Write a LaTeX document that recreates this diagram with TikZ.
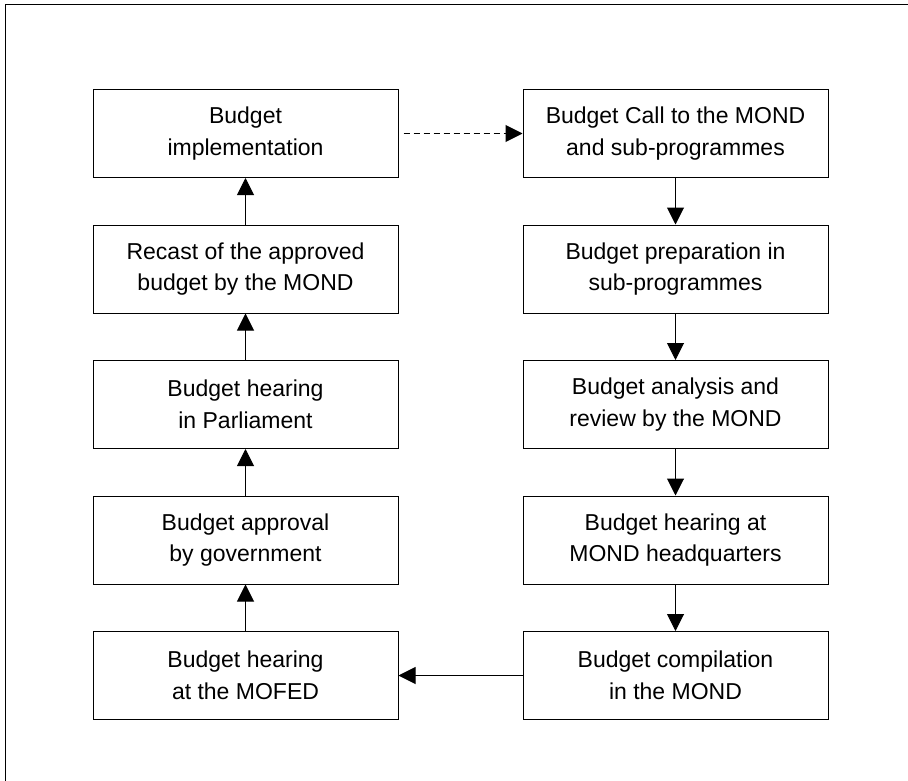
\documentclass[tikz,border=0pt]{standalone}
\usepackage{fontspec}
\setmainfont{Liberation Sans}
\usetikzlibrary{arrows.meta}
\begin{document}
\begin{tikzpicture}[x=1pt,y=-1pt,
  stepbox/.style={draw,line width=1pt,minimum width=305pt,minimum height=88pt,inner sep=0pt,
    align=center,font=\fontsize{23}{31.7}\selectfont},
  flow/.style={line width=1pt,-{Triangle[length=17pt,width=17pt]}}]
\useasboundingbox (0,0) rectangle (908,781);
\draw[line width=1pt] (5,800) -- (5,5) -- (920,5);
\node[stepbox] (l1) at (245.5,133.5) {Budget\\implementation};
\node[stepbox] (l2) at (245.5,269) {Recast of the approved\\budget by the MOND};
\node[stepbox] (l3) at (245.5,404.5) {Budget hearing\\in Parliament};
\node[stepbox] (l4) at (245.5,540) {Budget approval\\by government};
\node[stepbox] (l5) at (245.5,675.5) {Budget hearing\\at the MOFED};
\node[stepbox] (r1) at (675.5,133.5) {Budget Call to the MOND\\and sub-programmes};
\node[stepbox] (r2) at (675.5,269) {Budget preparation in\\sub-programmes};
\node[stepbox] (r3) at (675.5,404.5) {Budget analysis and\\review by the MOND};
\node[stepbox] (r4) at (675.5,540) {Budget hearing at\\MOND headquarters};
\node[stepbox] (r5) at (675.5,675.5) {Budget compilation\\in the MOND};
\draw[flow] (l5) -- (l4);
\draw[flow] (l4) -- (l3);
\draw[flow] (l3) -- (l2);
\draw[flow] (l2) -- (l1);
\draw[flow] (r1) -- (r2);
\draw[flow] (r2) -- (r3);
\draw[flow] (r3) -- (r4);
\draw[flow] (r4) -- (r5);
\draw[flow] (r5) -- (l5);
\draw[flow,dash pattern=on 6pt off 4pt,shorten <=5pt] (l1) -- (r1);
\end{tikzpicture}
\end{document}
